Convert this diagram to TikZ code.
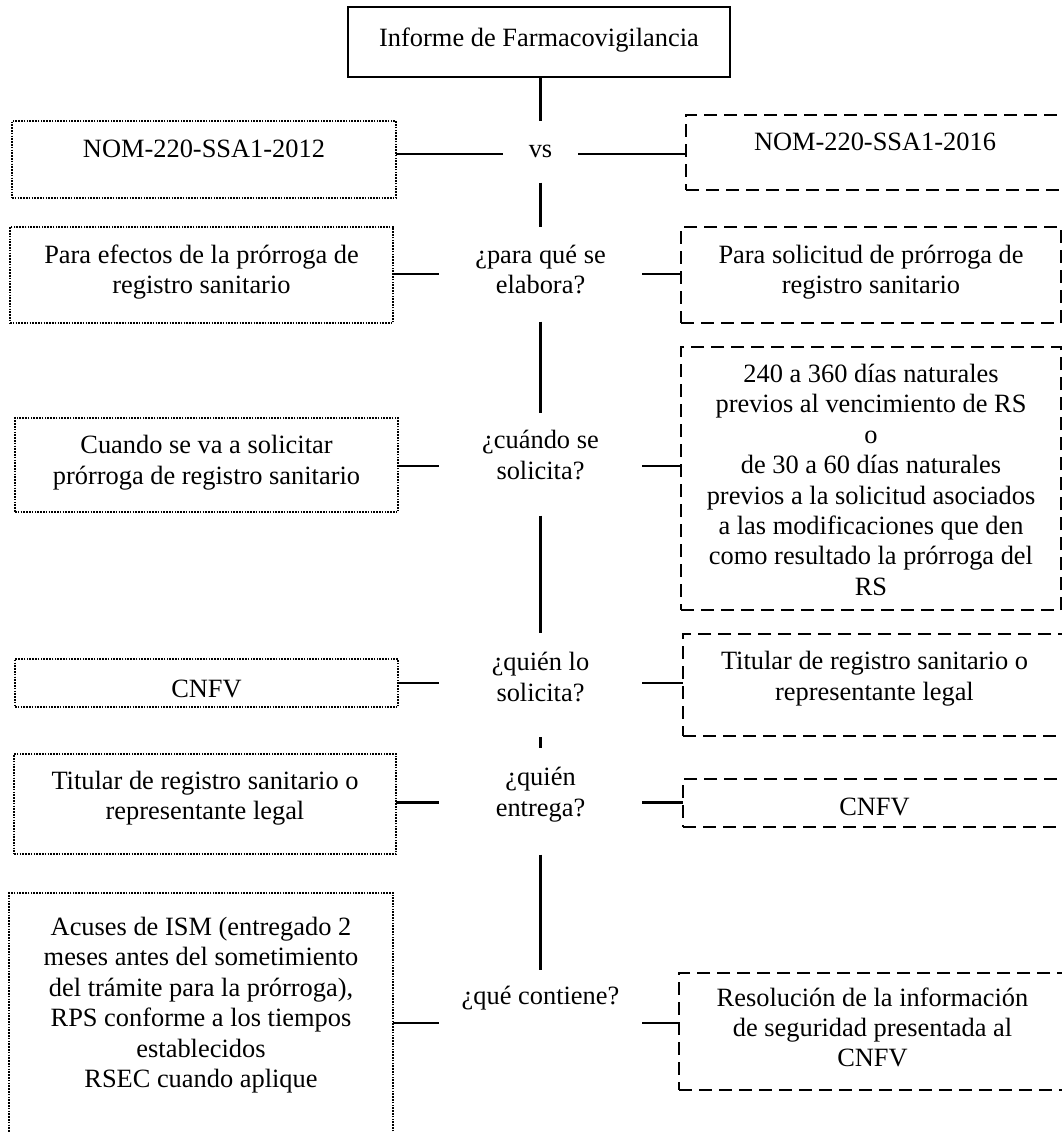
\documentclass[tikz,border=0pt]{standalone}
\usepackage{fontspec}
\setmainfont{Liberation Serif}
\newcommand\txtfont{\fontsize{26.4}{30.4}\selectfont}
% centred block of lines, lifted by #1 from the node centre
\newcommand\bt[2]{\raisebox{\dimexpr#1-6.6pt\relax}[0pt][0pt]{\begin{tabular}{@{}c@{}}#2\end{tabular}}}
\tikzset{
  base/.style={inner sep=0pt, outer sep=0pt, font=\txtfont},
  dotbox/.style={base, draw, line width=1.8pt, dash pattern=on 1.6pt off 1.2pt},
  dashbox/.style={base, draw, line width=1.9pt, dash pattern=on 13pt off 7pt},
  headbox/.style={base, draw, line width=2.6pt},
  ask/.style={base, minimum width=203pt},
  conn/.style={line width=2.6pt},
}
\begin{document}
\begin{tikzpicture}[x=1pt,y=-1pt]
\useasboundingbox (0,0) rectangle (1062,1133);

% title
\node[headbox, minimum width=382pt, minimum height=70pt] (top) at (539,42) {\bt{2pt}{Informe de Farmacovigilancia}};

% questions along the central spine
\node[base, minimum width=75pt] (vs) at (540.5,151.2) {\bt{0pt}{vs}};
\node[ask] (q2) at (540.5,272)   {\bt{0pt}{¿para qué se\\elabora?}};
\node[ask] (q3) at (540.5,457.5) {\bt{0pt}{¿cuándo se\\solicita?}};
\node[ask] (q4) at (540.5,679.4) {\bt{0pt}{¿quién lo\\solicita?}};
\node[ask] (q5) at (540.5,794.7) {\bt{0pt}{¿quién\\entrega?}};
\node[ask] (q6) at (540.5,998)   {\bt{0pt}{¿qué contiene?}};

% NOM-220-SSA1-2012 column
\node[dotbox, minimum width=384pt, minimum height=77pt]  (l1) at (204,159.5)  {\bt{8.7pt}{NOM-220-SSA1-2012}};
\node[dotbox, minimum width=383pt, minimum height=96pt]  (l2) at (201.5,275)  {\bt{3pt}{Para efectos de la prórroga de\\registro sanitario}};
\node[dotbox, minimum width=383pt, minimum height=94pt]  (l3) at (206.5,465)  {\bt{2.5pt}{Cuando se va a solicitar\\prórroga de registro sanitario}};
\node[dotbox, minimum width=383pt, minimum height=48pt]  (l4) at (206.5,683)  {\bt{-7.6pt}{CNFV}};
\node[dotbox, minimum width=382pt, minimum height=100pt] (l5) at (205,804)    {\bt{6pt}{Titular de registro sanitario o\\representante legal}};
\node[dotbox, minimum width=384pt, minimum height=252pt] (l6) at (201,1019)   {\bt{14pt}{Acuses de ISM (entregado 2\\meses antes del sometimiento\\del trámite para la prórroga),\\RPS conforme a los tiempos\\establecidos\\RSEC cuando aplique}};

% NOM-220-SSA1-2016 column
\node[dashbox, minimum width=378pt, minimum height=75pt]  (b1) at (875,152.5)  {\bt{8.6pt}{NOM-220-SSA1-2016}};
\node[dashbox, minimum width=380pt, minimum height=96pt]  (b2) at (871,275)    {\bt{3pt}{Para solicitud de prórroga de\\registro sanitario}};
\node[dashbox, minimum width=380pt, minimum height=263pt] (b3) at (871,478.5)  {\bt{-4pt}{240 a 360 días naturales\\previos al vencimiento de RS\\o\\de 30 a 60 días naturales\\previos a la solicitud asociados\\a las modificaciones que den\\como resultado la prórroga del\\RS}};
\node[dashbox, minimum width=383pt, minimum height=102pt] (b4) at (874.5,685)  {\bt{6.5pt}{Titular de registro sanitario o\\representante legal}};
\node[dashbox, minimum width=383pt, minimum height=48pt]  (b5) at (874.5,803)  {\bt{-6pt}{CNFV}};
\node[dashbox, minimum width=387pt, minimum height=117pt] (b6) at (872.5,1031.5) {\bt{1.5pt}{Resolución de la información\\de seguridad presentada al\\CNFV}};

% spine
\draw[conn, shorten >=30.2pt] (top.south -| vs) -- (vs);
\draw[conn, shorten <=30.8pt, shorten >=45pt]   (vs) -- (q2);
\draw[conn, shorten <=49pt,   shorten >=44.5pt] (q2) -- (q3);
\draw[conn, shorten <=57.5pt, shorten >=46.4pt] (q3) -- (q4);
\draw[conn, shorten <=57.3pt, shorten >=46.4pt] (q4) -- (q5);
\draw[conn, shorten <=59.3pt, shorten >=28pt]   (q5) -- (q6);

% rows of the comparison
\coordinate (h1) at (0,154);
\coordinate (h2) at (0,274);
\coordinate (h3) at (0,466);
\coordinate (h4) at (0,683);
\coordinate (h5) at (0,802.5);
\coordinate (h6) at (0,1023);

\draw[conn] (l1.east |- h1) -- (vs.west |- h1);
\draw[conn] (vs.east |- h1) -- (b1.west |- h1);
\draw[conn] (l2.east |- h2) -- (q2.west |- h2);
\draw[conn] (q2.east |- h2) -- (b2.west |- h2);
\draw[conn] (l3.east |- h3) -- (q3.west |- h3);
\draw[conn] (q3.east |- h3) -- (b3.west |- h3);
\draw[conn] (l4.east |- h4) -- (q4.west |- h4);
\draw[conn] (q4.east |- h4) -- (b4.west |- h4);
\draw[conn] (l5.east |- h5) -- (q5.west |- h5);
\draw[conn] (q5.east |- h5) -- (b5.west |- h5);
\draw[conn] (l6.east |- h6) -- (q6.west |- h6);
\draw[conn] (q6.east |- h6) -- (b6.west |- h6);
\end{tikzpicture}
\end{document}
